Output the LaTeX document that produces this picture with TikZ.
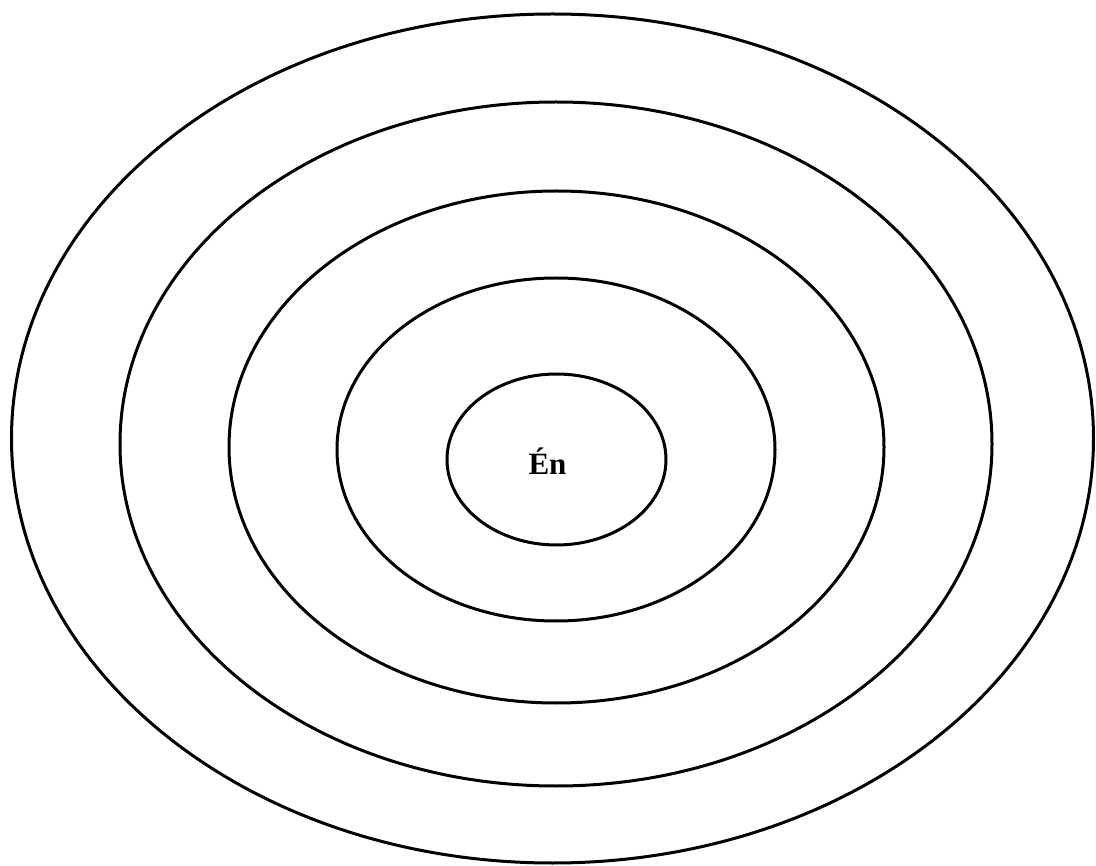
\documentclass[tikz,border=0pt]{standalone}
\usepackage{fontspec}
\setmainfont{Liberation Serif}
\begin{document}
\begin{tikzpicture}[x=1pt,y=-1pt,
  ring/.style={draw=black,line width=3pt}]
\useasboundingbox (0,0) rectangle (1096,866);
\draw[ring] (552.5,438.5) ellipse [x radius=541,y radius=424.5];
\draw[ring] (556,444) ellipse [x radius=436,y radius=342];
\draw[ring] (556.5,447) ellipse [x radius=327.5,y radius=256];
\draw[ring] (556,449.5) ellipse [x radius=219,y radius=171.5];
\draw[ring] (556.5,459.5) ellipse [x radius=109.5,y radius=85.5];
\node[font=\fontsize{31}{37}\selectfont\bfseries,anchor=base] (en) at (547.5,475) {Én};
\end{tikzpicture}
\end{document}
